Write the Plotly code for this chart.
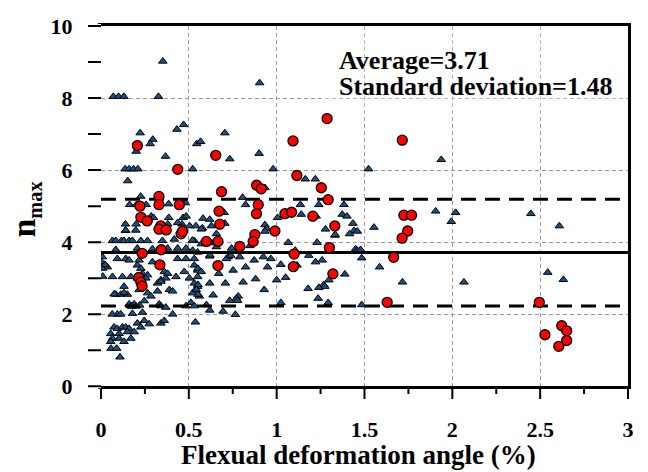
import plotly.graph_objects as go

# ---- data ----
tri_x = [
    0.07, 0.10, 0.13, 0.327, 0.352, 0.903,
    0.223, 0.295, 0.28, 0.432, 0.47, 0.545, 0.567, 0.705, 0.733, 0.90, 0.367, 0.20,
    0.137, 0.16, 0.185, 0.21, 0.152, 0.522, 0.98, 1.163, 1.22, 1.523, 1.937, 0.933,
    0.226, 0.163, 0.202, 0.257, 0.385, 0.48, 0.806, 0.823, 1.135, 1.24, 1.383,
    0.286, 0.299, 0.386, 0.38, 0.467, 0.485, 0.461, 0.505, 0.54, 0.581, 0.619, 0.577, 0.657, 0.705, 0.701,
    0.139, 0.139, 0.2, 0.36, 0.451, 0.571, 0.628, 0.436,
    0.933, 0.943, 0.933, 1.005, 1.14, 1.225, 1.373, 1.40, 1.434, 1.278, 1.44, 1.459, 1.554, 1.331, 1.415, 1.333,
    1.905, 2.019, 1.994, 2.447, 2.609,
    0.141, 0.198,
    0.065, 0.084, 0.116, 0.131, 0.16, 0.179, 0.227, 0.265, 0.35, 0.417, 0.531,
    0.084, 0.207, 0.293, 0.379, 0.436, 0.484, 0.522, 0.55,
    0.008, 0.093, 0.141, 0.16, 0.217, 0.293, 0.436, 0.484, 0.531,
    0.017, 0.036, 0.207, 0.227, 0.236, 0.265, 0.36, 0.379, 0.427, 0.474, 0.531, 0.55,
    0.008, 0.065, 0.122, 0.17, 0.207, 0.255, 0.341, 0.369, 0.503, 0.55,
    0.131, 0.322, 0.341, 0.531, 0.55,
    0.084, 0.112, 0.15, 0.131, 0.217, 0.265, 0.284, 0.322, 0.389, 0.408, 0.522, 0.56,
    0.16, 0.17, 0.189, 0.246, 0.331, 0.341, 0.484, 0.512,
    0.093, 0.112, 0.179, 0.236, 0.369, 0.408, 0.531,
    0.207, 0.246, 0.274, 0.341, 0.36, 0.537,
    0.074, 0.093, 0.122, 0.141, 0.16, 0.227, 0.055, 0.103, 0.15, 0.189, 0.065, 0.103, 0.17, 0.131, 0.055,
    0.0, 0.024, 0.01, 0.108, 0.057, 0.089,
    0.064, 0.075, 0.175, 0.20, 0.22,
    0.743, 0.847, 1.066, 0.619, 0.724, 0.714, 0.739, 0.79, 0.872, 0.924, 0.967, 0.948, 1.024, 0.752, 0.823,
    0.67, 0.552, 0.571, 0.552, 0.543, 0.619, 0.708, 0.809, 0.88, 1.0, 1.051, 0.929, 0.552, 0.638, 0.781,
    0.771, 0.777, 0.733, 0.60, 0.619, 0.695, 0.765, 1.024, 0.52, 0.62, 0.657, 0.571, 0.64,
    1.23, 1.106, 1.183, 1.221, 1.259, 1.449, 1.459, 1.478, 1.484, 1.116, 1.586, 1.388, 1.297, 1.268, 1.274,
    1.24, 1.179, 1.716, 1.236, 1.293, 1.484, 2.066, 2.543, 2.632,
]
tri_y = [
    8.04, 8.04, 8.04, 8.04, 9.02, 8.42,
    7.03, 6.85, 6.73, 7.13, 7.26, 6.73, 6.79, 7.03, 6.31, 6.46, 6.38, 6.52,
    6.03, 6.03, 6.03, 6.03, 5.70, 6.03, 6.03, 5.75, 5.75, 6.03, 6.29, 5.51,
    5.27, 5.04, 5.04, 5.04, 5.06, 5.09, 5.24, 5.04, 5.04, 5.04, 5.04,
    4.72, 4.68, 4.68, 4.50, 4.68, 4.72, 4.50, 4.45, 4.45, 4.66, 4.63, 4.39, 4.23, 4.52, 4.82,
    4.50, 4.32, 4.50, 4.41, 4.32, 4.36, 4.45, 4.54,
    4.48, 4.38, 4.30, 4.68, 4.77, 4.72, 4.77, 4.72, 4.52, 4.36, 4.32, 4.30, 4.41, 4.19, 4.23, 4.21,
    4.86, 4.82, 4.57, 4.79, 4.45,
    4.33, 4.33,
    4.04, 4.04, 4.04, 4.04, 4.04, 4.04, 4.04, 4.04, 4.04, 4.08, 4.04,
    3.79, 3.83, 3.81, 3.83, 3.83, 3.83, 3.77, 3.72,
    3.59, 3.54, 3.54, 3.50, 3.50, 3.45, 3.54, 3.54, 3.54,
    3.38, 3.31, 3.36, 3.27, 3.13, 3.09, 3.18, 3.13, 3.04, 3.18, 3.36, 3.22,
    3.27, 3.04, 3.04, 3.04, 3.00, 3.00, 2.95, 3.00, 3.00, 3.04,
    2.77, 2.86, 2.91, 2.86, 2.77,
    2.55, 2.55, 2.55, 2.59, 2.68, 2.59, 2.50, 2.64, 2.68, 2.64, 2.59, 2.50,
    2.28, 2.23, 2.28, 2.37, 2.28, 2.23, 2.23, 2.32,
    2.00, 2.00, 2.02, 2.05, 2.19, 2.00, 2.23,
    1.75, 1.82, 1.73, 1.75, 1.82, 1.78,
    1.64, 1.60, 1.64, 1.64, 1.60, 1.64, 1.46, 1.46, 1.51, 1.51, 1.33, 1.33, 1.33, 1.24, 1.24,
    3.46, 3.37, 3.05, 0.81, 1.05, 1.05,
    2.00, 2.56, 2.22, 2.22, 2.25,
    3.83, 3.90, 3.99, 3.61, 3.59, 3.54, 3.63, 3.59, 3.50, 3.59, 3.54, 3.31, 3.38, 3.22, 3.31,
    3.13, 3.27, 3.18, 2.82, 2.68, 2.86, 2.86, 2.89, 2.98, 2.95, 3.02, 2.68, 2.55, 2.53, 2.50,
    2.44, 2.38, 2.38, 2.26, 2.11, 2.08, 1.99, 2.32, 4.05, 3.64, 3.87, 3.95, 3.98,
    3.99, 3.77, 3.63, 3.45, 3.50, 3.81, 3.77, 3.79, 3.56, 3.36, 3.31, 3.11, 2.95, 2.82, 2.77,
    2.74, 2.71, 2.89, 2.44, 2.32, 2.26, 2.89, 3.16, 2.96,
]

red_x = [
    0.207, 0.653, 1.093, 1.287, 1.715,
    0.437, 0.686, 0.886, 0.912, 1.115, 1.254, 1.293,
    0.33, 0.33, 0.222, 0.446, 0.895,
    0.227, 0.263, 0.34, 0.33, 0.371, 0.456, 0.464,
    0.672, 0.676, 0.885, 1.047, 1.085, 1.206, 1.331, 0.876, 0.99, 0.866,
    1.724, 1.768, 1.746, 1.714,
    0.60, 0.666, 0.79, 0.343, 0.335, 0.234, 0.215, 0.227, 0.234, 0.666,
    1.099, 1.095, 1.30, 1.666, 1.32,
    1.629, 2.495, 2.527, 2.623, 2.651, 2.651, 2.606,
]
red_y = [
    6.68, 6.41, 6.81, 7.43, 6.83,
    6.02, 5.40, 5.58, 5.48, 5.85, 5.51, 5.18,
    5.27, 5.04, 5.00, 5.04, 5.04,
    4.69, 4.59, 4.45, 4.36, 4.34, 4.23, 4.30,
    4.86, 4.50, 4.79, 4.79, 4.83, 4.72, 4.45, 4.21, 4.31, 4.02,
    4.75, 4.75, 4.31, 4.11,
    4.02, 4.02, 3.88, 3.79, 3.37, 3.69, 3.02, 2.89, 2.78, 3.35,
    3.67, 3.32, 3.85, 3.58, 3.12,
    2.33, 2.33, 1.43, 1.68, 1.54, 1.27, 1.11,
]

average = 3.71
std_dev = 1.48
x_range = [0, 3]
y_range = [0, 10]
x_ticks = [0, 0.5, 1, 1.5, 2, 2.5, 3]
x_tick_labels = ["0", "0.5", "1", "1.5", "2", "2.5", "3"]
y_ticks = [0, 2, 4, 6, 8, 10]
y_tick_labels = ["0", "2", "4", "6", "8", "10"]
x_minor_ticks = [0.25, 0.75, 1.25, 1.75, 2.25, 2.75]
y_minor_ticks = [1, 3, 5, 7, 9]

FONT = "Liberation Serif"

# ---- layout geometry (pixels) ----
W, H = 648, 472
PLOT_L, PLOT_R, PLOT_T, PLOT_B = 101, 628, 17, 386      # main plotting box
MAJ, MIN_X = 13, 8                                      # tick lengths
MARGIN = dict(l=PLOT_L - MAJ - 2, r=W - PLOT_R - 2, t=PLOT_T - 2, b=H - PLOT_B - MAJ)
AREA_L, AREA_R = MARGIN["l"], W - MARGIN["r"]
AREA_T, AREA_B = MARGIN["t"], H - MARGIN["b"]
AW, AH = AREA_R - AREA_L, AREA_B - AREA_T


def px_x(px):   # pixel -> paper fraction (horizontal)
    return (px - AREA_L) / AW


def px_y(py):   # pixel -> paper fraction (vertical)
    return (AREA_B - py) / AH


ppx = (PLOT_R - PLOT_L) / (x_range[1] - x_range[0])
ppy = (PLOT_B - PLOT_T) / (y_range[1] - y_range[0])

fig = go.Figure()

fig.add_trace(go.Scatter(
    x=tri_x, y=tri_y, mode="markers",
    marker=dict(symbol="triangle-up", size=7.5, color="#1d4f80",
                line=dict(color="black", width=1)),
    showlegend=False, hoverinfo="skip"))

for val, dash in [(average, "solid"),
                  (average + std_dev, "15px,9px"),
                  (average - std_dev, "15px,9px")]:
    fig.add_trace(go.Scatter(
        x=x_range, y=[val, val], mode="lines",
        line=dict(color="black", width=3, dash=dash),
        showlegend=False, hoverinfo="skip"))

fig.add_trace(go.Scatter(
    x=red_x, y=red_y, mode="markers",
    marker=dict(symbol="circle", size=10, color="#ff0000",
                line=dict(color="black", width=1.3)),
    showlegend=False, hoverinfo="skip"))


# ---- tick marks drawn in thin strip subplots outside the box ----
def seg_lists(vals, length, vertical):
    a, b = [], []
    for v in vals:
        if vertical:
            a += [v, v, None]
            b += [0, -length, None]
        else:
            a += [0, -length, None]
            b += [v, v, None]
    return a, b


tick_line = dict(color="black", width=2)
xs, ys = seg_lists(x_ticks, MAJ, True)
fig.add_trace(go.Scatter(x=xs, y=ys, xaxis="x3", yaxis="y3", mode="lines",
                         line=tick_line, showlegend=False, hoverinfo="skip"))
xs, ys = seg_lists(x_minor_ticks, MIN_X, True)
fig.add_trace(go.Scatter(x=xs, y=ys, xaxis="x3", yaxis="y3", mode="lines",
                         line=tick_line, showlegend=False, hoverinfo="skip"))
xs, ys = seg_lists(y_ticks + y_minor_ticks, MAJ, False)
fig.add_trace(go.Scatter(x=xs, y=ys, xaxis="x4", yaxis="y4", mode="lines",
                         line=tick_line, showlegend=False, hoverinfo="skip"))

tick_font = dict(family=FONT, size=22, color="black")
clear = "rgba(0,0,0,0)"
ext = 2  # pixels the strips reach past the box ends

fig.update_layout(
    template="simple_white",
    xaxis=dict(
        domain=[px_x(PLOT_L), px_x(PLOT_R)], anchor="y",
        range=x_range, tickmode="array", tickvals=x_ticks,
        ticktext=[f"<b>{t}</b>" for t in x_tick_labels],
        showline=True, linecolor="black", linewidth=3, mirror=True,
        ticks="outside", ticklen=21, tickwidth=1, tickcolor=clear,
        showgrid=True, gridcolor="#9a9a9a", gridwidth=1, griddash="4px,3px",
        zeroline=False, tickfont=tick_font,
    ),
    yaxis=dict(
        domain=[px_y(PLOT_B), px_y(PLOT_T)], anchor="x",
        range=y_range, tickmode="array", tickvals=y_ticks,
        ticktext=[f"<b>{t}</b>" for t in y_tick_labels],
        showline=True, linecolor="black", linewidth=3, mirror=True,
        ticks="outside", ticklen=21, tickwidth=1, tickcolor=clear,
        showgrid=True, gridcolor="#9a9a9a", gridwidth=1, griddash="4px,3px",
        zeroline=False, tickfont=tick_font,
    ),
    # bottom strip for x ticks
    xaxis3=dict(domain=[px_x(PLOT_L - ext), px_x(PLOT_R + ext)], anchor="y3",
                range=[x_range[0] - ext / ppx, x_range[1] + ext / ppx], visible=False),
    yaxis3=dict(domain=[px_y(PLOT_B + MAJ), px_y(PLOT_B)], anchor="x3",
                range=[-MAJ, 0], visible=False),
    # left strip for y ticks
    xaxis4=dict(domain=[px_x(PLOT_L - MAJ), px_x(PLOT_L)], anchor="y4",
                range=[-MAJ, 0], visible=False),
    yaxis4=dict(domain=[px_y(PLOT_B + ext), px_y(PLOT_T - ext)], anchor="x4",
                range=[y_range[0] - ext / ppy, y_range[1] + ext / ppy], visible=False),
)

# white box behind the statistics text
fig.add_shape(type="rect", xref="x", yref="y", x0=1.276, x1=2.99, y0=7.48, y1=9.97,
              fillcolor="white", line=dict(width=0), layer="between")

bold = dict(family=FONT, color="black", weight="bold")
fig.add_annotation(xref="paper", yref="paper", x=px_x(336.6), y=px_y(52.1),
                   xanchor="left", yanchor="middle", showarrow=False,
                   text=f"Average={average}", font=dict(size=26, **bold))
fig.add_annotation(xref="paper", yref="paper", x=px_x(336.6), y=px_y(79.0),
                   xanchor="left", yanchor="middle", showarrow=False,
                   text=f"Standard deviation={std_dev}", font=dict(size=26, **bold))

fig.add_annotation(xref="paper", yref="paper", x=px_x(358.2), y=px_y(456.8),
                   xanchor="center", yanchor="middle", showarrow=False,
                   text="Flexual deformation angle (%)", font=dict(size=27, **bold))
fig.add_annotation(xref="paper", yref="paper", x=px_x(25), y=px_y(205),
                   xanchor="center", yanchor="middle", showarrow=False, textangle=-90,
                   text="<span style='font-size:34px'>n</span><sub>max</sub>",
                   font=dict(size=29, **bold))

fig.update_layout(
    width=W, height=H,
    margin=MARGIN,
    plot_bgcolor="white", paper_bgcolor="white",
)

fig.write_html("out.html")
